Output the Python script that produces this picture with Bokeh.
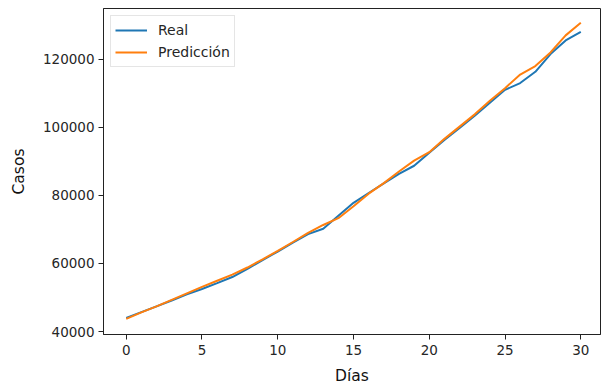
from bokeh.plotting import figure
from bokeh.models import FixedTicker, BasicTickFormatter, Range1d, Legend, LegendItem
from bokeh.embed import file_html
from bokeh.resources import INLINE

# Days of the forecast window
dias = list(range(31))

# Observed cases per day
real = [44000, 45700, 47400, 49100, 50900, 52500, 54200, 56000, 58400, 61000,
        63500, 66100, 68600, 70200, 74000, 77800, 80700, 83500, 86300, 88700,
        92500, 96300, 99800, 103400, 107200, 111000, 113000, 116300, 121500, 125500,
        128000]

# Model prediction per day
prediccion = [43700, 45600, 47400, 49300, 51200, 53100, 54900, 56700, 58800, 61200,
              63700, 66300, 69000, 71300, 73300, 76800, 80500, 83600, 87000, 90200,
              92700, 96600, 100200, 103800, 107800, 111500, 115500, 118000, 122000, 127000,
              130700]

x_ticks = [0, 5, 10, 15, 20, 25, 30]
y_ticks = [40000, 60000, 80000, 100000, 120000]

FONT = "DejaVu Sans"
TXT = "#262626"

p = figure(width=602, height=388, output_backend="svg", toolbar_location=None,
           x_range=Range1d(-1.5, 31.3), y_range=Range1d(39120, 134900),
           min_border_left=103, min_border_right=2, min_border_top=8, min_border_bottom=54)
p.frame_width = 497
p.frame_height = 326

p.xgrid.visible = False
p.ygrid.visible = False
p.outline_line_color = "#222222"
p.outline_line_width = 1
p.background_fill_color = "white"
p.border_fill_color = "white"

r_real = p.line(dias, real, line_color="#1f77b4", line_width=2)
r_pred = p.line(dias, prediccion, line_color="#ff7f0e", line_width=2)

for ax in (p.xaxis[0], p.yaxis[0]):
    ax.axis_line_color = "#222222"
    ax.major_tick_line_color = "#222222"
    ax.major_tick_in = 0
    ax.major_tick_out = 5
    ax.minor_tick_line_color = None
    ax.major_label_text_font = FONT
    ax.major_label_text_font_size = "13.5px"
    ax.major_label_text_color = TXT
    ax.axis_label_text_font = FONT
    ax.axis_label_text_font_size = "15.5px"
    ax.axis_label_text_font_style = "normal"
    ax.axis_label_text_color = "#111111"

p.xaxis.ticker = FixedTicker(ticks=x_ticks)
p.yaxis.ticker = FixedTicker(ticks=y_ticks)
p.yaxis.formatter = BasicTickFormatter(use_scientific=False)
p.xaxis.axis_label = "Días"
p.yaxis.axis_label = "Casos"
p.xaxis.major_label_standoff = 5
p.yaxis.major_label_standoff = 4
p.xaxis.axis_label_standoff = 9
p.yaxis.axis_label_standoff = 12

legend = Legend(items=[LegendItem(label="Real", renderers=[r_real]),
                       LegendItem(label="Predicción", renderers=[r_pred])],
                location="top_left")
legend.margin = 7
legend.padding = 4
legend.spacing = 2
legend.glyph_width = 32
legend.glyph_height = 20
legend.label_height = 20
legend.label_standoff = 11
legend.label_text_font = FONT
legend.label_text_font_size = "14px"
legend.label_text_color = TXT
legend.border_line_color = "#cccccc"
legend.border_line_width = 1
legend.background_fill_color = "white"
legend.background_fill_alpha = 0.8
p.add_layout(legend)

open("out.html", "w").write(file_html(p, INLINE))
